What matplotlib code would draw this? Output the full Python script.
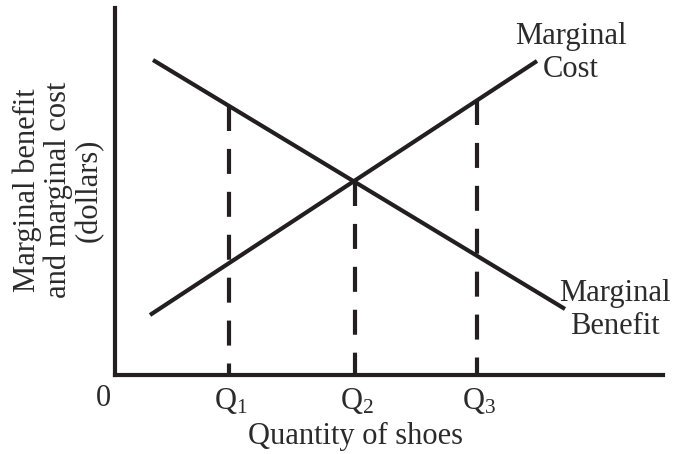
import numpy as np
import matplotlib
matplotlib.use("Agg")
import matplotlib.pyplot as plt

plt.rcParams["font.family"] = ["Liberation Serif", "DejaVu Serif"]
plt.rcParams["mathtext.fontset"] = "custom"
plt.rcParams["mathtext.rm"] = "Liberation Serif"
plt.rcParams["mathtext.it"] = "Liberation Serif:italic"

# curve end points (quantity, dollars) in arbitrary chart units
benefit_q = [38, 450]
benefit_v = [315, 66]
cost_q = [35, 422]
cost_v = [60, 314]

# the three marked quantities
q_values = [114, 240, 362]
q_labels = [r"$\mathrm{Q}_1$", r"$\mathrm{Q}_2$", r"$\mathrm{Q}_3$"]
# which curve each dashed line reaches up to
q_reach = ["benefit", "both", "cost"]

W, H = 674, 454
fig = plt.figure(figsize=(W / 100, H / 100), dpi=100)
ax = fig.add_axes([115 / W, (H - 375) / H, (663 - 115) / W, (375 - 8) / H])
ax.set_xlim(0, 548)
ax.set_ylim(0, 367)

col = "#231f20"
lw = 3.0

ax.plot(benefit_q, benefit_v, color=col, lw=lw, solid_capstyle="butt")
ax.plot(cost_q, cost_v, color=col, lw=lw, solid_capstyle="butt")

for q, reach in zip(q_values, q_reach):
    top_b = np.interp(q, benefit_q, benefit_v)
    top_c = np.interp(q, cost_q, cost_v)
    if reach == "benefit":
        top = top_b
    elif reach == "cost":
        top = top_c
    else:
        top = (top_b + top_c) / 2
    ax.plot([q, q], [top, 0], color=col, lw=lw, dashes=(6.0, 4.3),
            dash_capstyle="butt")

for sp in ["top", "right"]:
    ax.spines[sp].set_visible(False)
for sp in ["left", "bottom"]:
    ax.spines[sp].set_linewidth(lw)
    ax.spines[sp].set_color(col)
ax.set_xticks([])
ax.set_yticks([])
ax.patch.set_alpha(0)

fs = 22
tc = "#2b2b2b"
ax.text(-12, -23, "0", fontsize=fs, ha="center", va="center", color=tc)
for q, lab in zip(q_values, q_labels):
    ax.text(q + 2, -26, lab, fontsize=fs, ha="center", va="center", color=tc)
ax.text(241, -61, "Quantity of shoes", fontsize=fs, ha="center", va="center",
        color=tc)
ax.text(-57, 185, "Marginal benefit\nand marginal cost\n(dollars)", fontsize=fs,
        ha="center", va="center", rotation=90, linespacing=1.07, color=tc)
ax.text(456, 322, "Marginal\nCost", fontsize=fs, ha="center", va="center",
        linespacing=1.15, color=tc)
ax.text(500, 65, "Marginal\nBenefit", fontsize=fs, ha="center", va="center",
        linespacing=1.15, color=tc)

fig.savefig("out.png", dpi=100)
